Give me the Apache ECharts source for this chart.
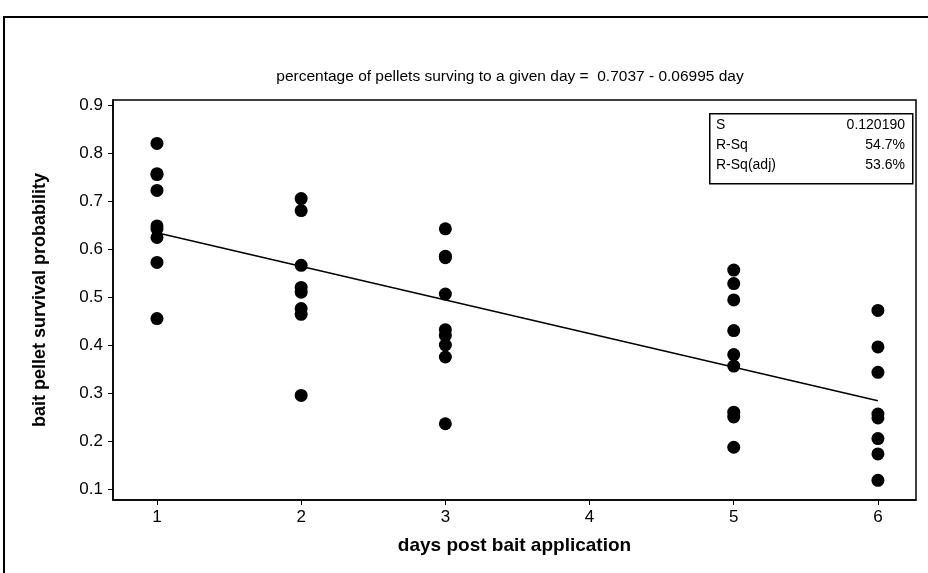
<!DOCTYPE html>
<html>
<head>
<meta charset="utf-8">
<script src="https://cdn.jsdelivr.net/npm/echarts@6/dist/echarts.min.js"></script>
<style>
  html, body { margin: 0; padding: 0; background: #fff; }
  #chart { width: 928px; height: 573px; }
</style>
</head>
<body>
<div id="chart"></div>
<script>
// 数据
var days = [1, 2, 3, 5, 6];
var survival = [
  [0.82, 0.757, 0.755, 0.722, 0.648, 0.642, 0.624, 0.572, 0.455],
  [0.705, 0.68, 0.566, 0.52, 0.51, 0.476, 0.464, 0.295],
  [0.642, 0.585, 0.582, 0.506, 0.432, 0.42, 0.40, 0.375, 0.236],
  [0.556, 0.528, 0.494, 0.43, 0.38, 0.356, 0.26, 0.25, 0.187],
  [0.472, 0.396, 0.343, 0.256, 0.248, 0.205, 0.173, 0.118]
];
var fitDays = [1, 6];
var fitValues = [0.6338, 0.2840];
var xTicks = [1, 2, 3, 4, 5, 6];
var yTicks = [0.1, 0.2, 0.3, 0.4, 0.5, 0.6, 0.7, 0.8, 0.9];
var statNames = ['S', 'R-Sq', 'R-Sq(adj)'];
var statValues = ['0.120190', '54.7%', '53.6%'];

(function() {
  var myChart = echarts.init(document.getElementById('chart'));

  // 散点
  var points = [];
  days.forEach(function(d, i) {
    survival[i].forEach(function(v) {
      points.push([d, v]);
    });
  });
  var fitLine = fitDays.map(function(d, i) { return [d, fitValues[i]]; });

  // 统计框
  var statBox = [{
    type: 'rect',
    left: 709, top: 113,
    shape: { width: 203, height: 70 },
    style: { fill: '#fff', stroke: '#000', lineWidth: 1.5 },
    z: 10
  }];
  statNames.forEach(function(name, i) {
    statBox.push({
      type: 'text', left: 716, top: 118 + i * 20, z: 11,
      style: { text: name, font: '14px "Liberation Sans"', fill: '#000' }
    });
    statBox.push({
      type: 'text', right: 23, top: 118 + i * 20, z: 11,
      style: { text: statValues[i], font: '14px "Liberation Sans"', fill: '#000' }
    });
  });
  // 外框
  statBox.push({
    type: 'polyline',
    shape: { points: [[4, 573], [4, 17], [930, 17]] },
    style: { stroke: '#000', lineWidth: 2, fill: null }
  });

  var option = {
    backgroundColor: '#fff',
    animation: false,
    title: {
      text: 'percentage of pellets surving to a given day =  0.7037 - 0.06995 day',
      left: 505,
      textAlign: 'center',
      top: 64,
      textStyle: { fontFamily: 'Liberation Sans', fontSize: 15.5, fontWeight: 'normal', color: '#000' }
    },
    grid: {
      left: 113, top: 100, right: 12, bottom: 73,
      show: true,
      borderColor: '#000',
      borderWidth: 1.5
    },
    xAxis: {
      type: 'value',
      min: 0.695,
      max: 6.264,
      name: 'days post bait application',
      nameLocation: 'middle',
      nameGap: 36,
      nameTextStyle: { fontFamily: 'Liberation Sans', fontSize: 19, fontWeight: 'bold', color: '#000' },
      axisLine: { show: true, lineStyle: { color: '#000', width: 1.5 } },
      axisTick: { show: true, length: 5, customValues: xTicks, lineStyle: { color: '#000' } },
      axisLabel: {
        customValues: xTicks,
        color: '#000', fontFamily: 'Liberation Sans', fontSize: 17, margin: 9
      },
      splitLine: { show: false }
    },
    yAxis: {
      type: 'value',
      min: 0.0771,
      max: 0.9104,
      name: 'bait pellet survival probability',
      nameLocation: 'middle',
      nameGap: 64,
      nameTextStyle: { fontFamily: 'Liberation Sans', fontSize: 18, fontWeight: 'bold', color: '#000' },
      axisLine: { show: true, lineStyle: { color: '#000', width: 1.5 } },
      axisTick: { show: true, length: 5, customValues: yTicks, lineStyle: { color: '#000' } },
      axisLabel: {
        customValues: yTicks,
        formatter: function(v) { return v.toFixed(1); },
        color: '#000', fontFamily: 'Liberation Sans', fontSize: 17, margin: 10
      },
      splitLine: { show: false }
    },
    series: [
      {
        type: 'line',
        data: fitLine,
        symbol: 'none',
        lineStyle: { color: '#000', width: 1.5 },
        z: 2
      },
      {
        type: 'scatter',
        data: points,
        symbolSize: 13,
        itemStyle: { color: '#000', opacity: 1 },
        z: 3
      }
    ],
    graphic: statBox
  };

  myChart.setOption(option);
  window.addEventListener('resize', function() {
    myChart.resize();
  });
})();
</script>
</body>
</html>
